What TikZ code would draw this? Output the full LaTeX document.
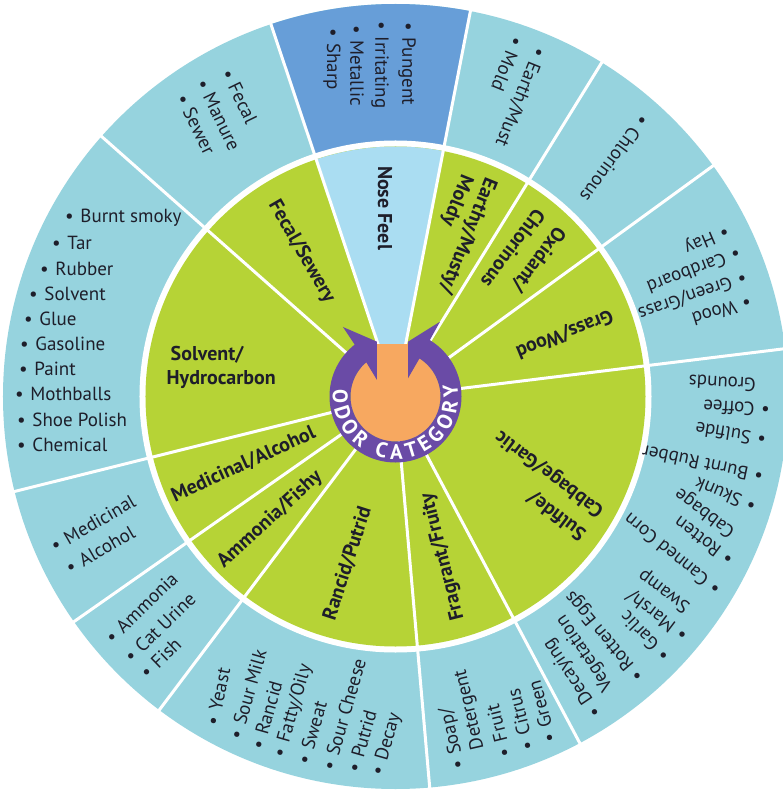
\documentclass[tikz,border=0pt]{standalone}
\usepackage{fontspec}
\setmainfont{PT Sans}
\usetikzlibrary{decorations.text}
\definecolor{ringblue}{RGB}{150,211,222}
\definecolor{nosedark}{RGB}{103,158,216}
\definecolor{noselight}{RGB}{170,221,242}
\definecolor{leafgreen}{RGB}{182,211,54}
\definecolor{hubpurple}{RGB}{106,75,166}
\definecolor{huborange}{RGB}{247,168,96}
\definecolor{inkdark}{RGB}{30,30,42}
\newcommand{\bu}{\textbullet\hspace{0.35em}}
\newcommand{\nb}{\phantom{\textbullet}\hspace{0.35em}}
\tikzset{
  inlab/.style={font=\bfseries\fontsize{20}{23}\selectfont, text=inkdark, inner sep=0pt},
  outlab/.style={font=\fontsize{19}{22}\selectfont, text=inkdark, inner sep=0pt, anchor=west},
  sepline/.style={white, line width=3pt},
}
\begin{document}
\begin{tikzpicture}[x=1pt,y=1pt]
\useasboundingbox (-395.5,-395.5) rectangle (387.5,396.5);
\fill[white] (-395.5,-395.5) rectangle (387.5,396.5);
% outer ring
\fill[ringblue] (0,0) circle[radius=392.5];
\fill[nosedark] (79:255) arc[start angle=79,end angle=108.5,radius=255] -- (108.5:392.5) arc[start angle=108.5,end angle=79,radius=392.5] -- cycle;
\fill[white] (0,0) circle[radius=256];
% inner disc
\fill[leafgreen] (0,0) circle[radius=250];
\fill[noselight] (0,0) -- (79:250) arc[start angle=79,end angle=108.5,radius=250] -- cycle;
\foreach \a in {7,36,58.3,79,108.5,138.5,194,215,233,275,298} {
  \draw[sepline] (\a:255) -- (\a:394);
  \draw[sepline] (\a:40) -- (\a:251);
}
% hub
\fill[huborange] (0,0) circle[radius=45];
\fill[hubpurple] (128.2:66) -- (-52.5,69.5) -- (-18.5,54.8) -- (-18.5,16.5) -- (130.5:45)
  arc[start angle=130.5,end angle=417.8,radius=45] -- (12.5,18.2) -- (12.5,54.8) -- (44.5,74.8) -- (58.7:66)
  arc[start angle=58.7,end angle=-231.8,radius=66] -- cycle;
\fill[huborange] (-18.5,0) rectangle (12.5,52);
\path[decorate, decoration={text along path, text align=fit to path,
  text={|\bfseries\fontsize{21}{21}\selectfont\color{white}|ODOR CATEGORY}}]
  (174:62.5) arc[start angle=174,end angle=371,radius=62.5];
% inner labels
\node[inlab, rotate=-90] (nosefeel) at (-10.5,188.5) {Nose Feel};
\node[inlab, rotate=-60] (fecal) at (-94,144.5) {Fecal/Sewery};
\node[inlab, anchor=west] (solvA) at (-225,42) {Solvent/};
\node[inlab, anchor=west] (solvB) at (-229,17) {Hydrocarbon};
\node[inlab, rotate=24.6] (medi) at (-152,-68) {Medicinal/Alcohol};
\node[inlab, rotate=42.4] (ammo) at (-125.5,-123) {Ammonia/Fishy};
\node[inlab, rotate=72] (ranc) at (-48,-167) {Rancid/Putrid};
\node[inlab, rotate=104] (frag) at (47.5,-160.5) {Fragrant/Fruity};
\node[inlab, rotate=143, anchor=west] (sulfA) at (188.5,-139.5) {Sulfide/};
\node[inlab, rotate=143, anchor=west] (sulfB) at (206.5,-116.5) {Cabbage/Garlic};
\node[inlab, rotate=202] (grass) at (169,62.5) {Grass/Wood};
\node[inlab, rotate=233, anchor=west] (oxiA) at (165.5,167.5) {Oxidant/};
\node[inlab, rotate=233, anchor=west] (oxiB) at (145.5,184.5) {Chlorinous};
\node[inlab, rotate=248, anchor=west] (earthA) at (95,218) {Earthy/Musty/};
\node[inlab, rotate=248, anchor=west] (earthB) at (71,221) {Moldy};
% outer: nose feel
\node[outlab, rotate=-90] (nf1) at (11.5,374) {\bu Pungent};
\node[outlab, rotate=-90] (nf2) at (-15.5,375) {\bu Irritating};
\node[outlab, rotate=-90] (nf3) at (-38.5,371.5) {\bu Metallic};
\node[outlab, rotate=-90] (nf4) at (-63.5,368.5) {\bu Sharp};
% outer: fecal
\node[outlab, rotate=-64] (fe1) at (-168.8,326.5) {\bu Fecal};
\node[outlab, rotate=-64] (fe2) at (-193.8,316.5) {\bu Manure};
\node[outlab, rotate=-64] (fe3) at (-213.8,301.5) {\bu Sewer};
% outer: solvent
\node[outlab] (so1) at (-330.5,178.5) {\bu Burnt smoky};
\node[outlab] (so2) at (-343.5,153.3) {\bu Tar};
\node[outlab] (so3) at (-355.5,128.1) {\bu Rubber};
\node[outlab] (so4) at (-366.5,102.9) {\bu Solvent};
\node[outlab] (so5) at (-371.5,77.7) {\bu Glue};
\node[outlab] (so6) at (-375.5,52.5) {\bu Gasoline};
\node[outlab] (so7) at (-376.5,27.3) {\bu Paint};
\node[outlab] (so8) at (-380.5,2.1) {\bu Mothballs};
\node[outlab] (so9) at (-378.5,-23.1) {\bu Shoe Polish};
\node[outlab] (so10) at (-378.5,-48.3) {\bu Chemical};
% outer: medicinal
\node[outlab, rotate=30] (me1) at (-343.5,-150.5) {\bu Medicinal};
\node[outlab, rotate=30] (me2) at (-328.5,-172.5) {\bu Alcohol};
% outer: ammonia
\node[outlab, rotate=44] (am1) at (-287.5,-243.5) {\bu Ammonia};
\node[outlab, rotate=44] (am2) at (-268.5,-262.5) {\bu Cat Urine};
\node[outlab, rotate=44] (am3) at (-252.5,-278.5) {\bu Fish};
% outer: rancid
\node[outlab, rotate=78] (ra1) at (-183.5,-328.5) {\bu Yeast};
\node[outlab, rotate=74] (ra2) at (-160.5,-342.5) {\bu Sour Milk};
\node[outlab, rotate=74] (ra3) at (-138.5,-352.5) {\bu Rancid};
\node[outlab, rotate=74] (ra4) at (-115.5,-360.5) {\bu Fatty/Oily};
\node[outlab, rotate=74] (ra5) at (-92.5,-367.5) {\bu Sweat};
\node[outlab, rotate=74] (ra6) at (-67.5,-373.5) {\bu Sour Cheese};
\node[outlab, rotate=74] (ra7) at (-42.5,-375.5) {\bu Putrid};
\node[outlab, rotate=74] (ra8) at (-17.5,-378.5) {\bu Decay};
% outer: fragrant
\node[outlab, rotate=103] (fr1) at (64.5,-372.5) {\bu Soap/};
\node[outlab, rotate=103] (fr2) at (87,-367.7) {\nb Detergent};
\node[outlab, rotate=104] (fr3) at (109.5,-360.5) {\bu Fruit};
\node[outlab, rotate=104] (fr4) at (132.5,-353.5) {\bu Citrus};
\node[outlab, rotate=105] (fr5) at (154.5,-345.5) {\bu Green};
% outer: sulfide
\node[outlab, rotate=177] (su1) at (374.5,-13.5) {\bu Coffee};
\node[outlab, rotate=177] (su1b) at (375.8,10.5) {\nb Grounds};
\node[outlab, rotate=171] (su2) at (370.5,-43.5) {\bu Sulfide};
\node[outlab, rotate=168] (su3) at (367.5,-80.5) {\bu Burnt Rubber};
\node[outlab, rotate=157] (su4) at (359.5,-111.5) {\bu Skunk};
\node[outlab, rotate=143] (su5) at (335.5,-165.5) {\bu Rotten};
\node[outlab, rotate=143] (su5b) at (349.9,-146.3) {\nb Cabbage};
\node[outlab, rotate=141] (su6) at (322.5,-195.5) {\bu Canned Corn};
\node[outlab, rotate=143] (su7) at (290.5,-240.5) {\bu Marsh/};
\node[outlab, rotate=143] (su7b) at (304.9,-221.3) {\nb Swamp};
\node[outlab, rotate=134] (su8) at (270.5,-262.5) {\bu Garlic};
\node[outlab, rotate=130] (su9) at (245.5,-282.5) {\bu Rotten Eggs};
\node[outlab, rotate=124] (su10) at (202.5,-318.5) {\bu Decaying};
\node[outlab, rotate=124] (su10b) at (222.4,-305.1) {\nb Vegetation};
% outer: grass
\node[outlab, rotate=197] (gr1) at (355.5,94.5) {\bu Wood};
\node[outlab, rotate=199] (gr2) at (350.5,119.5) {\bu Green/Grass};
\node[outlab, rotate=201] (gr3) at (344.5,143.5) {\bu Cardboard};
\node[outlab, rotate=203] (gr4) at (332.5,166.5) {\bu Hay};
% outer: chlorinous
\node[outlab, rotate=234] (ch1) at (249.5,279.5) {\bu Chlorinous};
% outer: earthy
\node[outlab, rotate=248] (ea1) at (144.5,348.5) {\bu Earth/Must};
\node[outlab, rotate=248] (ea2) at (122.5,358.5) {\bu Mold};
\end{tikzpicture}
\end{document}
